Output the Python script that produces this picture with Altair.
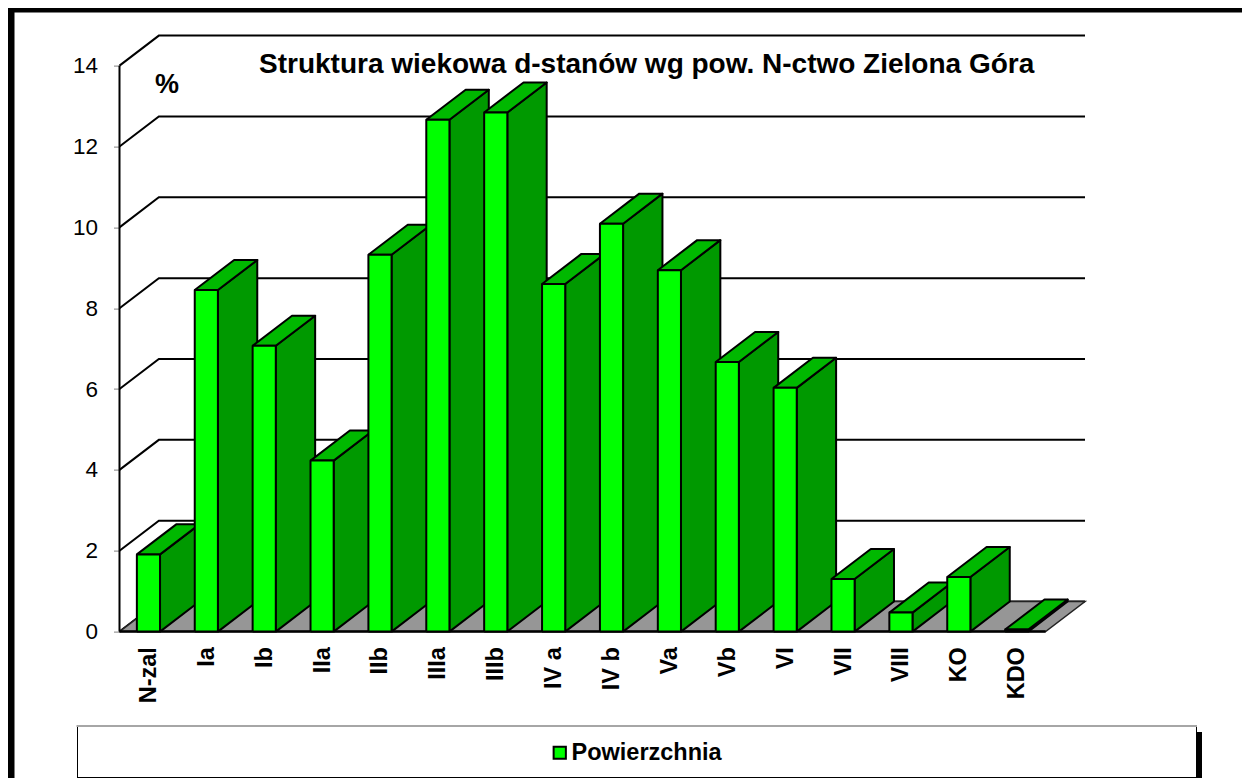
import json
import altair as alt
import pandas as pd

categories = ["N-zal", "Ia", "Ib", "IIa", "IIb", "IIIa", "IIIb", "IV a", "IV b", "Va", "Vb", "VI", "VII", "VIII", "KO", "KDO"]
values = [1.91, 8.45, 7.07, 4.23, 9.32, 12.66, 12.84, 8.60, 10.09, 8.94, 6.67, 6.03, 1.30, 0.47, 1.35, 0.05]
grid_values = [0, 2, 4, 6, 8, 10, 12, 14]
title_text = "Struktura wiekowa d-stanów wg pow. N-ctwo Zielona Góra"
unit_text = "%"
series_name = "Powierzchnia"

DX, DY, HALF = 0.68, 0.743, 0.2
X0, X1 = -0.5, 15.5
FRONT, SIDE, TOP, FLOOR = "#00ff00", "#009900", "#00b800", "#969696"
FONT = "Liberation Sans"

# Plot area: screen x 119.5..1085, y 35.6..631.6 ; page margin 8
PL, PT = 111.5, 27.6
W, H = 965.5, 596.0
PR, PB = 1234 - PL - W, 770 - PT - H

xs = alt.Scale(domain=[X0, X1 + DX], nice=False, zero=False)
ys = alt.Scale(domain=[0, 14 + DY], nice=False, zero=False)

# faces of each bar, painted left to right
rows = []
for i, v in enumerate(values):
    l, r = i - HALF, i + HALF
    faces = {
        "side": ([(r, 0), (r + DX, DY), (r + DX, v + DY), (r, v)]),
        "top": ([(l, v), (r, v), (r + DX, v + DY), (l + DX, v + DY)]),
        "front": ([(l, 0), (r, 0), (r, v), (l, v)]),
    }
    for name, pts in faces.items():
        for k, (x, y) in enumerate(pts + pts[:1]):
            rows.append({"pid": f"{i:02d}{name}", "k": k, "x": x, "y": y, "face": name})
bars = pd.DataFrame(rows)

floor_pts = [(X0, 0), (X1, 0), (X1 + DX, DY), (X0 + DX, DY), (X0, 0)]
floor = pd.DataFrame([{"k": k, "x": x, "y": y} for k, (x, y) in enumerate(floor_pts)])

grid_rows = []
for g in grid_values:
    for k, (x, y) in enumerate([(X0, g), (X0 + DX, g + DY), (X1 + DX, g + DY)]):
        grid_rows.append({"g": g, "k": k, "x": x, "y": y})
grid = pd.DataFrame(grid_rows)

wall = pd.DataFrame([{"k": 0, "x": X0, "y": 0}, {"k": 1, "x": X0, "y": 14}])
base = pd.DataFrame([{"k": 0, "x": X0, "y": 0}, {"k": 1, "x": X1, "y": 0}])

x_axis = alt.Axis(
    values=list(range(len(categories))),
    labelExpr=json.dumps(categories) + "[datum.value]",
    labelAngle=270, labelAlign="right", labelBaseline="middle",
    labelFont=FONT, labelFontSize=23.5, labelFontWeight="bold", labelColor="black",
    labelPadding=15, labelOverlap=False, labelFlush=False, labelBound=False,
    ticks=False, domain=False, grid=False,
)
y_axis = alt.Axis(
    values=grid_values, format="d",
    labelFont=FONT, labelFontSize=22.5, labelColor="black", labelPadding=16,
    tickSize=6, tickColor="#808080", tickWidth=1, domain=False, grid=False,
)


def X():
    return alt.X("x:Q", scale=xs, axis=x_axis, title=None)


def Y():
    return alt.Y("y:Q", scale=ys, axis=y_axis, title=None)


grid_layer = alt.Chart(grid).mark_line(color="black", strokeWidth=2).encode(
    x=X(), y=Y(), detail="g:N", order="k:Q"
)
floor_layer = alt.Chart(floor).mark_line(fill=FLOOR, stroke="#222222", strokeWidth=1.5).encode(
    x=X(), y=Y(), order="k:Q"
)
wall_layer = alt.Chart(wall).mark_line(color="black", strokeWidth=2).encode(x=X(), y=Y(), order="k:Q")
base_layer = alt.Chart(base).mark_line(color="black", strokeWidth=2.5).encode(x=X(), y=Y(), order="k:Q")
bar_layer = alt.Chart(bars).mark_line(stroke="black", strokeWidth=2, strokeJoin="round").encode(
    x=X(), y=Y(), detail="pid:N", order="k:Q",
    fill=alt.Fill(
        "face:N",
        scale=alt.Scale(domain=["front", "side", "top"], range=[FRONT, SIDE, TOP]),
        legend=alt.Legend(
            title=None, orient="none", legendX=558 - 8 - PL - 10, legendY=741 - 8 - PT,
            values=["front"], labelExpr=json.dumps(series_name),
            symbolType="square", symbolSize=150, symbolStrokeColor="black", symbolStrokeWidth=2,
            labelFont=FONT, labelFontSize=23.5, labelFontWeight="bold", labelColor="black", labelOffset=0,
        ),
    ),
)


def box(x, x2, y, y2, fill):
    return alt.Chart(pd.DataFrame({"a": [0]})).mark_rect(fill=fill).encode(
        x=alt.value(x - 8 - PL), x2=alt.value(x2 - 8 - PL),
        y=alt.value(y - 8 - PT), y2=alt.value(y2 - 8 - PT),
    )


def label(text, x, y, size):
    return alt.Chart(pd.DataFrame({"t": [text]})).mark_text(
        font=FONT, fontSize=size, fontWeight="bold", color="black", align="left", baseline="middle"
    ).encode(text="t:N", x=alt.value(x - 8 - PL), y=alt.value(y - 8 - PT))


chart = alt.layer(
    grid_layer, floor_layer, wall_layer, base_layer, bar_layer,
    box(8, 1250, 8, 12.5, "black"), box(8, 14.5, 8, 778, "black"),
    box(1190, 1202, 732, 778, "black"),
    box(76.5, 1197, 725, 727, "#a6a6a6"),
    box(77, 1197, 727, 778, "black"),
    box(78, 1196, 727, 777, "white"),
    label(title_text, 259, 65, 28),
    label(unit_text, 155, 85, 27),
).properties(
    width=W, height=H, background="white",
    padding={"left": PL, "top": PT, "right": PR, "bottom": PB},
    autosize=alt.AutoSizeParams(type="none"),
).configure_view(stroke=None)

chart.save("out.html", embed_options={"renderer": "svg", "actions": False})
